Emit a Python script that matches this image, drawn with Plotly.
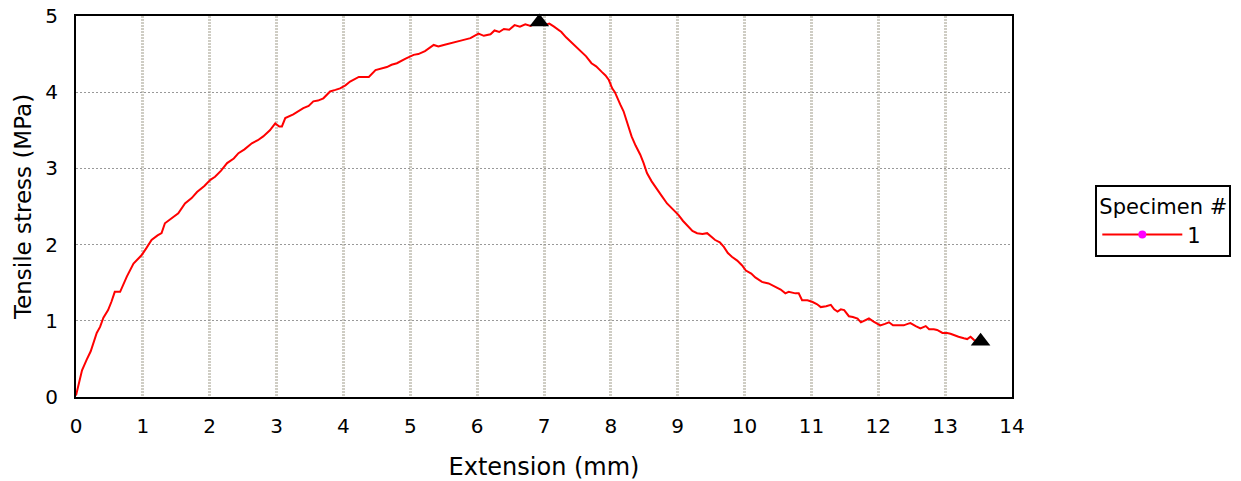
import plotly.graph_objects as go

extension_mm = [
    0.00, 0.02, 0.09, 0.16, 0.22, 0.31, 0.36, 0.41, 0.48, 0.53, 0.58, 0.66, 0.76, 0.86, 0.98,
    1.05, 1.13, 1.22, 1.28, 1.33, 1.43, 1.53, 1.63, 1.73, 1.81, 1.92, 2.01, 2.08, 2.17, 2.26,
    2.36, 2.43, 2.52, 2.63, 2.72, 2.80, 2.90, 2.98, 3.04, 3.08, 3.13, 3.25, 3.40, 3.48, 3.55,
    3.62, 3.70, 3.80, 3.88, 3.95, 4.03, 4.10, 4.23, 4.38, 4.48, 4.56, 4.65, 4.72, 4.80, 4.93,
    5.05, 5.12, 5.22, 5.35, 5.42, 5.50, 5.58, 5.65, 5.77, 5.90, 6.02, 6.10, 6.20, 6.26, 6.33,
    6.40, 6.48, 6.56, 6.64, 6.72, 6.80, 6.86, 6.93, 7.00, 7.08, 7.15, 7.26, 7.33, 7.41, 7.48,
    7.56, 7.63, 7.71, 7.78, 7.86, 7.92, 7.97, 8.02, 8.06, 8.10, 8.14, 8.19, 8.24, 8.28, 8.31,
    8.37, 8.44, 8.49, 8.54, 8.61, 8.69, 8.76, 8.84, 8.92, 9.01, 9.08, 9.16, 9.22, 9.29, 9.37,
    9.44, 9.50, 9.56, 9.63, 9.69, 9.75, 9.81, 9.89, 9.96, 10.02, 10.06, 10.10, 10.16, 10.26, 10.36,
    10.46, 10.54, 10.61, 10.66, 10.76, 10.81, 10.86, 10.94, 11.01, 11.08, 11.14, 11.22, 11.29, 11.34, 11.39,
    11.44, 11.49, 11.56, 11.62, 11.69, 11.74, 11.80, 11.86, 11.93, 12.03, 12.10, 12.16, 12.22, 12.33, 12.38,
    12.44, 12.48, 12.56, 12.63, 12.71, 12.76, 12.83, 12.88, 12.96, 13.03, 13.08, 13.13, 13.20, 13.28, 13.33,
    13.38, 13.43, 13.48,
]
stress_mpa = [
    0.02, 0.10, 0.35, 0.49, 0.60, 0.84, 0.92, 1.04, 1.14, 1.25, 1.38, 1.38, 1.58, 1.75, 1.86,
    1.95, 2.06, 2.12, 2.15, 2.28, 2.35, 2.41, 2.54, 2.61, 2.69, 2.77, 2.85, 2.89, 2.97, 3.07,
    3.13, 3.20, 3.25, 3.33, 3.37, 3.42, 3.50, 3.59, 3.55, 3.55, 3.66, 3.71, 3.79, 3.82, 3.88,
    3.89, 3.92, 4.01, 4.03, 4.05, 4.09, 4.14, 4.20, 4.20, 4.29, 4.31, 4.33, 4.36, 4.38, 4.44,
    4.49, 4.50, 4.54, 4.62, 4.60, 4.62, 4.64, 4.66, 4.68, 4.71, 4.77, 4.74, 4.76, 4.81, 4.79,
    4.83, 4.82, 4.88, 4.86, 4.89, 4.87, 4.90, 4.92, 4.88, 4.90, 4.86, 4.79, 4.72, 4.65, 4.60,
    4.53, 4.47, 4.38, 4.34, 4.27, 4.22, 4.16, 4.05, 4.00, 3.93, 3.84, 3.75, 3.62, 3.50, 3.42,
    3.30, 3.18, 3.07, 2.94, 2.83, 2.72, 2.64, 2.54, 2.47, 2.39, 2.31, 2.23, 2.18, 2.15, 2.14,
    2.15, 2.10, 2.06, 2.03, 1.97, 1.89, 1.84, 1.79, 1.73, 1.66, 1.64, 1.62, 1.57, 1.51, 1.49,
    1.45, 1.41, 1.36, 1.38, 1.36, 1.36, 1.27, 1.27, 1.25, 1.22, 1.18, 1.19, 1.21, 1.15, 1.12,
    1.15, 1.14, 1.06, 1.05, 1.03, 0.98, 1.00, 1.03, 0.99, 0.94, 0.96, 0.98, 0.94, 0.94, 0.94,
    0.96, 0.97, 0.93, 0.90, 0.93, 0.89, 0.89, 0.88, 0.84, 0.84, 0.83, 0.81, 0.79, 0.77, 0.76,
    0.79, 0.75, 0.73,
]
# peak and break markers
marker_x = [6.93, 13.53]
marker_y = [4.92, 0.73]

specimen_name = "1"
legend_title = "Specimen #"
x_ticks = list(range(0, 15))
y_ticks = list(range(0, 6))

FONT = "DejaVu Sans"

fig = go.Figure()
fig.add_trace(go.Scatter(
    x=extension_mm, y=stress_mpa, mode="lines",
    line=dict(color="#ff0000", width=2), showlegend=False, hoverinfo="skip",
))
fig.add_trace(go.Scatter(
    x=marker_x, y=marker_y, mode="markers",
    marker=dict(symbol="triangle-up", size=17, color="black"),
    cliponaxis=False, showlegend=False,
))
# legend entry
fig.add_trace(go.Scatter(
    x=[None], y=[None], mode="lines+markers", name=specimen_name,
    line=dict(color="#ff0000", width=2),
    marker=dict(color="#ff00ff", size=8),
))

fig.update_layout(
    width=1241, height=481,
    margin=dict(l=76, r=229, t=16, b=84, autoexpand=False),
    paper_bgcolor="white", plot_bgcolor="white",
    font=dict(family=FONT, size=20, color="black"),
    showlegend=True,
    legend=dict(
        title=dict(text=legend_title, font=dict(size=21)),
        x=1.089, xanchor="left", y=0.462, yanchor="middle",
        bgcolor="white", bordercolor="black", borderwidth=2,
        itemwidth=80, font=dict(size=21),
    ),
    xaxis=dict(
        range=[0, 14], tickvals=x_ticks, ticks="", ticklabelstandoff=10,
        showline=True, linecolor="black", linewidth=2, mirror=True,
        showgrid=True, gridcolor="#cfcdc4", gridwidth=3, griddash="2px,1px",
        zeroline=False, automargin=False, ticklabeloverflow="allow",
        title=dict(text="Extension (mm)", font=dict(size=24), standoff=21),
    ),
    yaxis=dict(
        range=[0, 5], tickvals=y_ticks, ticks="", ticklabelstandoff=12,
        showline=True, linecolor="black", linewidth=2, mirror=True,
        showgrid=True, gridcolor="#999999", gridwidth=1, griddash="2px,2px",
        zeroline=False, automargin=False, ticklabeloverflow="allow",
        title=dict(text="Tensile stress (MPa)", font=dict(size=23), standoff=7),
    ),
)

# remove the default 8px page margin so the figure fills the window exactly
fig.write_html(
    "out.html",
    config={"displayModeBar": False},
    post_script="document.body.style.margin='0';",
)
